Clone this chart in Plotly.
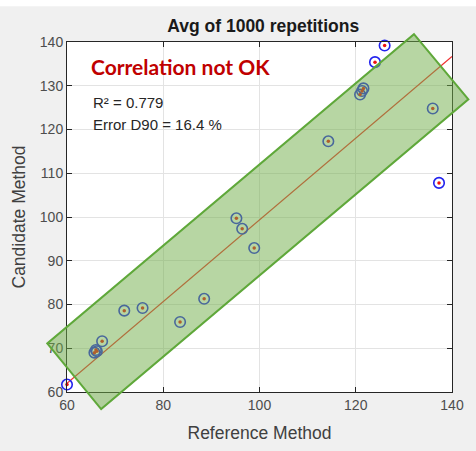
import plotly.graph_objects as go

# ---- data ----
ref_x = [60.0, 65.7, 66.2, 66.0, 67.3, 71.9, 75.7, 83.5, 88.5, 95.2, 96.4, 98.9,
         114.3, 120.9, 121.3, 121.6, 124.0, 126.0, 136.0, 137.3]
cand_y = [61.7, 69.0, 69.3, 69.6, 71.6, 78.6, 79.2, 76.0, 81.3, 99.7, 97.3, 92.9,
          117.3, 128.0, 128.8, 129.4, 135.4, 139.2, 124.8, 107.8]
fit_x = [60, 140]
fit_y = [62.0, 136.7]
band_x = [132.1, 143.4, 67.1, 55.9]
band_y = [141.8, 126.9, 56.1, 71.1]
x_ticks = [60, 80, 100, 120, 140]
y_ticks = [60, 70, 80, 90, 100, 110, 120, 130, 140]
x_range = [60, 140]
y_range = [60, 140]

title_text = "Avg of 1000 repetitions"
x_title = "Reference Method"
y_title = "Candidate Method"
verdict = "Correlation not OK"
stats_lines = ["R² = 0.779", "Error D90 = 16.4 %"]

fig = go.Figure()
fig.add_trace(go.Scatter(x=fit_x, y=fit_y, mode="lines",
                         line=dict(color="#f03030", width=1.3), hoverinfo="skip"))
fig.add_trace(go.Scatter(x=ref_x, y=cand_y, mode="markers",
                         marker=dict(symbol="circle-open", size=10.5,
                                     color="#2222ee", line=dict(width=1.6)),
                         cliponaxis=False))
fig.add_trace(go.Scatter(x=ref_x, y=cand_y, mode="markers",
                         marker=dict(symbol="circle", size=3.5, color="#ee1111"),
                         cliponaxis=False))

def px(v):
    return (v - x_range[0]) / (x_range[1] - x_range[0])

def py(v):
    return (v - y_range[0]) / (y_range[1] - y_range[0])

path = "M " + " L ".join(f"{px(a):.4f},{py(b):.4f}" for a, b in zip(band_x, band_y)) + " Z"

axis_common = dict(showline=True, linecolor="#262626", linewidth=1, mirror="ticks",
                   ticks="inside", ticklen=5, tickcolor="#262626",
                   showgrid=True, gridcolor="#e3e3e3", gridwidth=1, zeroline=False,
                   tickfont=dict(family="Liberation Sans, Arial", size=14, color="#4d4d4d"))

fig.update_layout(
    width=476, height=451,
    margin=dict(l=67, r=17, t=42, b=57),
    paper_bgcolor="#f0f0f0", plot_bgcolor="#ffffff",
    showlegend=False,
    title=dict(text=f"<b>{title_text}</b>", x=0.553, xanchor="center", y=0.943, yanchor="middle",
               font=dict(family="Liberation Sans, Arial", size=17.5, color="#1a1a1a")),
    xaxis=dict(range=x_range, tickvals=x_ticks, **axis_common,
               title=dict(text=x_title, standoff=14,
                          font=dict(family="Liberation Sans, Arial", size=17.5, color="#404040"))),
    yaxis=dict(range=y_range, tickvals=y_ticks, **axis_common,
               title=dict(text=y_title, standoff=9,
                          font=dict(family="Liberation Sans, Arial", size=17.5, color="#404040"))),
    shapes=[
        dict(type="rect", xref="paper", yref="paper", x0=-0.2, x1=1.1,
             y0=1.102, y1=1.2, fillcolor="#ffffff", line=dict(width=0), layer="above"),
        dict(type="path", xref="paper", yref="paper", path=path, layer="above",
             fillcolor="rgba(112,173,71,0.5)", line=dict(color="#5fa83a", width=2)),
    ],
    annotations=[
        dict(xref="paper", yref="paper", x=0.058, y=0.931, xanchor="left", yanchor="middle",
             text=f"<b>{verdict}</b>", showarrow=False,
             font=dict(family="Lato, Open Sans", size=21, color="#c00000")),
        dict(xref="paper", yref="paper", x=0.062, y=0.827, xanchor="left", yanchor="middle",
             text=stats_lines[0], showarrow=False,
             font=dict(family="Liberation Sans, Arial", size=15, color="#262626")),
        dict(xref="paper", yref="paper", x=0.062, y=0.765, xanchor="left", yanchor="middle",
             text=stats_lines[1], showarrow=False,
             font=dict(family="Liberation Sans, Arial", size=15, color="#262626")),
    ],
)

fig.write_html("out.html", config={"displayModeBar": False},
               post_script="document.body.style.margin='0';document.body.style.overflow='hidden';")
